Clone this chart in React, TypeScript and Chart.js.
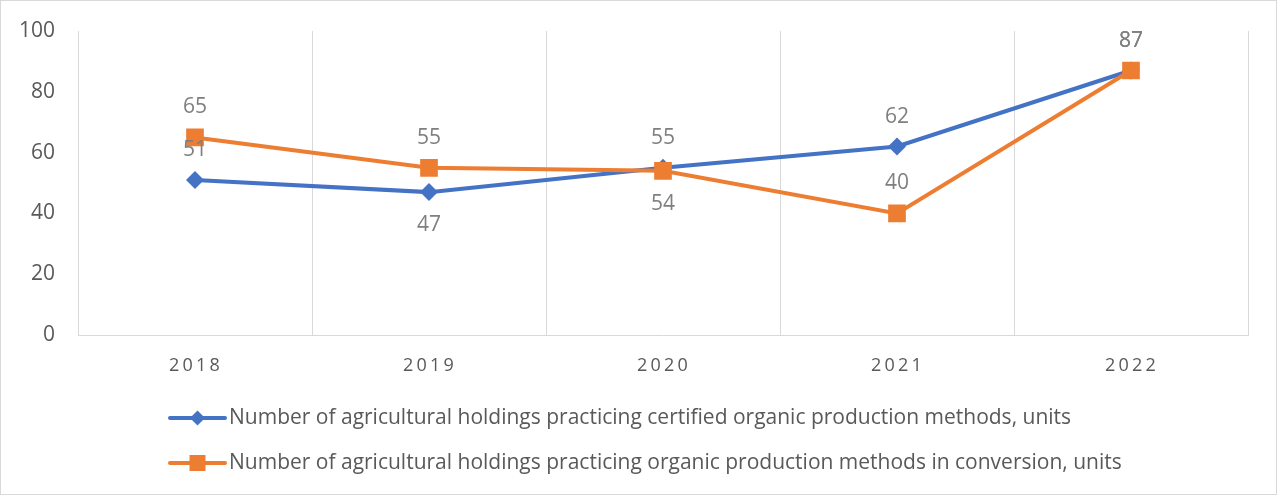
import { useEffect, useRef } from 'react';
import { Chart, registerables } from 'chart.js';

Chart.register(...registerables);

const years = ['2018', '2019', '2020', '2021', '2022'];
const certifiedValues = [51, 47, 55, 62, 87];
const conversionValues = [65, 55, 54, 40, 87];
const certifiedLabelSide = ['above', 'below', 'above', 'above', 'above'];
const conversionLabelSide = ['above', 'above', 'below', 'above', 'above'];
const seriesNames = [
  'Number of agricultural holdings practicing certified organic production methods, units',
  'Number of agricultural holdings practicing organic production methods in conversion, units',
];
const yMin = 0;
const yMax = 100;
const yStep = 20;

const BLUE = '#4472C4';
const ORANGE = '#ED7D31';
const FONT = '"Open Sans", "Liberation Sans", sans-serif';

const labelSides = [certifiedLabelSide, conversionLabelSide];

const dataLabelPlugin = {
  id: 'dataLabels',
  afterDatasetsDraw(chart: any) {
    const ctx = chart.ctx;
    ctx.save();
    ctx.font = `21px ${FONT}`;
    ctx.fillStyle = '#7f7f7f';
    ctx.textAlign = 'center';
    ctx.textBaseline = 'middle';
    chart.data.datasets.forEach((ds: any, di: number) => {
      const meta = chart.getDatasetMeta(di);
      const sides = labelSides[di];
      meta.data.forEach((pt: any, i: number) => {
        const dy = sides[i] === 'below' ? 33 : -30;
        ctx.fillText(String(ds.data[i]), pt.x, pt.y + dy);
      });
    });
    ctx.restore();
  },
};

const xLabelPlugin = {
  id: 'xLabels',
  afterDraw(chart: any) {
    const ctx = chart.ctx;
    const xs = chart.scales.x;
    ctx.save();
    ctx.font = `18px ${FONT}`;
    ctx.fillStyle = '#595959';
    ctx.textAlign = 'center';
    ctx.textBaseline = 'middle';
    (ctx as any).letterSpacing = '3.2px';
    chart.data.labels.forEach((lab: string, i: number) => {
      const x = xs.getPixelForValue(i);
      ctx.fillText(lab, x + 1, xs.top + 31);
    });
    ctx.restore();
  },
};

const legendPlugin = {
  id: 'customLegend',
  afterDraw(chart: any) {
    const ctx = chart.ctx;
    const area = chart.chartArea;
    ctx.save();
    ctx.font = `21px ${FONT}`;
    ctx.textBaseline = 'middle';
    ctx.textAlign = 'left';
    const rows = [area.bottom + 83, area.bottom + 128];
    chart.data.datasets.forEach((ds: any, r: number) => {
      const y = rows[r];
      const x0 = 169;
      const x1 = 224;
      ctx.strokeStyle = ds.borderColor;
      ctx.lineWidth = 4;
      ctx.lineCap = 'round';
      ctx.beginPath();
      ctx.moveTo(x0, y);
      ctx.lineTo(x1, y);
      ctx.stroke();
      ctx.fillStyle = ds.borderColor;
      const cx = (x0 + x1) / 2;
      if (ds.pointStyle === 'rectRot') {
        const h = 7.5;
        ctx.beginPath();
        ctx.moveTo(cx, y - h);
        ctx.lineTo(cx + h, y);
        ctx.lineTo(cx, y + h);
        ctx.lineTo(cx - h, y);
        ctx.closePath();
        ctx.fill();
      } else {
        const s = 8;
        ctx.fillRect(cx - s, y - s, 2 * s, 2 * s);
      }
      ctx.fillStyle = '#595959';
      ctx.fillText(ds.label, x1 + 4, y);
    });
    ctx.restore();
  },
};

export default function App() {
  const canvasRef = useRef<HTMLCanvasElement | null>(null);

  useEffect(() => {
    document.body.style.margin = '0';
    const canvas = canvasRef.current;
    if (!canvas) return;
    const chart = new Chart(canvas, {
      type: 'line',
      data: {
        labels: years,
        datasets: [
          {
            label: seriesNames[0],
            data: certifiedValues,
            borderColor: BLUE,
            backgroundColor: BLUE,
            borderWidth: 4,
            pointStyle: 'rectRot',
            pointRadius: 9,
            pointBorderWidth: 0,
            pointBackgroundColor: BLUE,
            tension: 0,
            order: 1,
          },
          {
            label: seriesNames[1],
            data: conversionValues,
            borderColor: ORANGE,
            backgroundColor: ORANGE,
            borderWidth: 4,
            pointStyle: 'rect',
            pointRadius: 12.5,
            pointBorderWidth: 0,
            pointBackgroundColor: ORANGE,
            tension: 0,
            order: 0,
          },
        ],
      },
      options: {
        responsive: false,
        animation: false,
        events: [],
        layout: { autoPadding: false, padding: { left: 17, right: 28, top: 30, bottom: 119 } },
        plugins: {
          legend: { display: false },
          tooltip: { enabled: false },
          title: { display: false },
        },
        scales: {
          x: {
            type: 'category',
            offset: true,
            grid: { display: true, offset: true, color: '#d9d9d9', lineWidth: 1, drawTicks: false },
            border: { display: true, color: '#d9d9d9', width: 1 },
            ticks: { display: false },
            afterFit: (s: any) => {
              s.height = 40;
              s.paddingLeft = 0;
              s.paddingRight = 0;
            },
          },
          y: {
            min: yMin,
            max: yMax,
            grid: { display: false, drawTicks: false },
            border: { display: false },
            ticks: {
              stepSize: yStep,
              padding: 23,
              color: '#595959',
              font: { family: FONT, size: 21 },
            },
            afterFit: (s: any) => {
              s.width = 60;
              s.paddingTop = 0;
              s.paddingBottom = 0;
            },
          },
        },
      },
      plugins: [dataLabelPlugin, xLabelPlugin, legendPlugin],
    });
    return () => chart.destroy();
  }, []);

  return (
    <div
      style={{
        position: 'absolute',
        left: 0,
        top: 0,
        width: 1277,
        height: 495,
        border: '1px solid #d9d9d9',
        boxSizing: 'border-box',
        background: '#fff',
      }}
    >
      <canvas ref={canvasRef} width={1275} height={493} style={{ display: 'block' }} />
    </div>
  );
}
